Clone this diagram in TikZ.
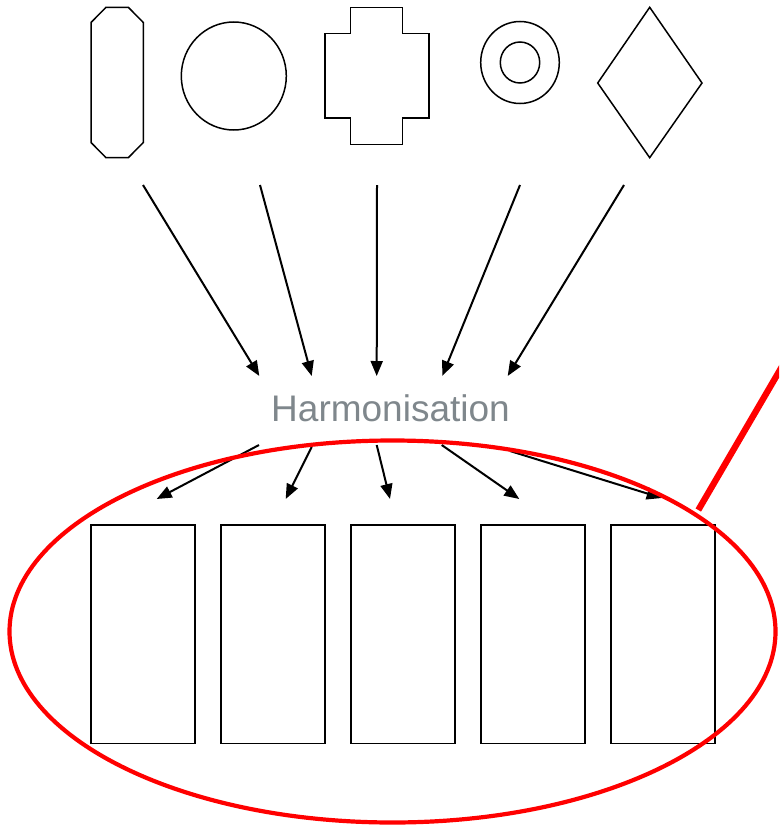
\documentclass[tikz,border=0pt]{standalone}
\usepackage{fontspec}
\setmainfont{Liberation Sans}
\usetikzlibrary{positioning}
\usetikzlibrary{arrows.meta}
\definecolor{harmgray}{RGB}{127,135,140}

\begin{document}
\begin{tikzpicture}[x=1pt,y=-1pt,
  shape line/.style={line width=1.5pt,line join=miter},
  flow/.style={line width=2pt,-{Triangle[length=15pt,width=12pt]}},
  box/.style={draw,line width=1.5pt,minimum width=104pt,minimum height=218.7pt,inner sep=0pt},
  mark red/.style={draw=red,line width=4.2pt}]
 \useasboundingbox (0,0) rectangle (779,827);
 \clip (0,0) rectangle (779,827);
 % source shapes
 \draw[shape line](106,7.3)--(128.3,7.3)--(143.3,22.5)--(143.3,142.5)--(128.3,157.7)--(106,157.7)--(91,142.5)--(91,22.5)--cycle;
 \draw[shape line](233.8,76) ellipse [x radius=52.5,y radius=54];
 \draw[shape line](350.7,7.3)--(402.7,7.3)--(402.7,33.7)--(429,33.7)--(429,118)--(402.7,118)--(402.7,144.3)--(350.7,144.3)--(350.7,118)--(325,118)--(325,33.7)--(350.7,33.7)--cycle;
 \draw[shape line](520,62.5) ellipse [x radius=39.3,y radius=41];
 \draw[shape line](520,62.5) ellipse [x radius=19.7,y radius=20.5];
 \draw[shape line](649.7,7.3)--(702,83)--(649.7,157.7)--(597.7,83)--cycle;

 \node[text=harmgray,font=\fontsize{37}{40}\selectfont,anchor=base,inner sep=0pt] (harm) at (390.5,421) {Harmonisation};

 % target boxes
 \node[box] (box1) at (143,634.3) {};
 \node[box] (box2) at (273,634.3) {};
 \node[box] (box3) at (403,634.3) {};
 \node[box] (box4) at (533,634.3) {};
 \node[box] (box5) at (663,634.3) {};

 % arrow ends
 \coordinate (src1) at (143,185);
 \coordinate (src2) at (260,185);
 \coordinate (src3) at (377,185);
 \coordinate (src4) at (520,185);
 \coordinate (src5) at (624,185);
 \coordinate (in1) at (259.3,376);
 \coordinate (in2) at (311.7,376);
 \coordinate (in3) at (376.7,376);
 \coordinate (in4) at (442.3,376);
 \coordinate (in5) at (507.7,376);
 \coordinate (out1) at (259,445);
 \coordinate (out2) at (311.7,447);
 \coordinate (out3) at (376.7,445);
 \coordinate (out4) at (441.7,445);
 \coordinate (out5) at (510,451);
 \coordinate (tgt1) at (156.7,499);
 \coordinate (tgt2) at (285.7,499);
 \coordinate (tgt3) at (390,499);
 \coordinate (tgt4) at (519.3,499);
 \coordinate (tgt5) at (661.7,498);

 \draw[flow](src1)--(in1);
 \draw[flow](src2)--(in2);
 \draw[flow](src3)--(in3);
 \draw[flow](src4)--(in4);
 \draw[flow](src5)--(in5);
 \draw[flow](out1)--(tgt1);
 \draw[flow](out2)--(tgt2);
 \draw[flow](out3)--(tgt3);
 \draw[flow](out4)--(tgt4);
 \draw[flow](out5)--(tgt5);

 % red highlight
 \draw[mark red](392.5,631.5) ellipse [x radius=383,y radius=191];
 \coordinate (callout) at (698.3,510);
 \coordinate (callend) at (790,352.8);
 \draw[mark red,line width=6.3pt](callout)--(callend);
\end{tikzpicture}
\end{document}
